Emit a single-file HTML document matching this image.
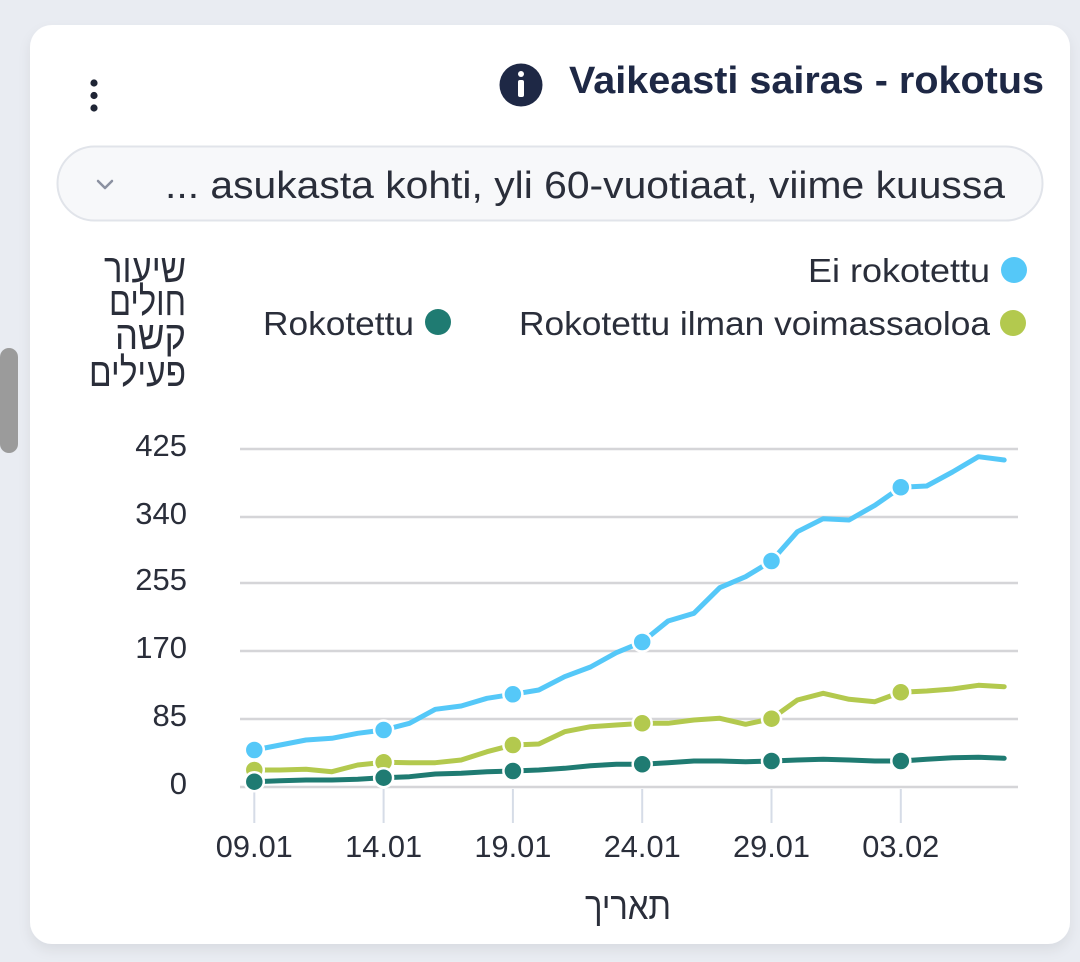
<!DOCTYPE html>
<html><head><meta charset="utf-8">
<style>
html,body{margin:0;padding:0;background:#e9ecf2;}
svg{display:block;}
text{font-family:"Liberation Sans","DejaVu Sans",sans-serif;}
</style></head>
<body>
<svg width="1080" height="962" viewBox="0 0 1080 962" xmlns="http://www.w3.org/2000/svg">
<defs>
<filter id="sh" x="-5%" y="-5%" width="110%" height="115%">
<feDropShadow dx="0" dy="6" stdDeviation="6" flood-color="#000" flood-opacity="0.07"/>
</filter>
</defs>
<rect x="0" y="0" width="1080" height="962" fill="#e9ecf2"/>
<rect x="0" y="348" width="18" height="105" rx="9" fill="#9b9b9b"/>
<rect x="30" y="25" width="1040" height="919" rx="22" fill="#ffffff" filter="url(#sh)"/>

<!-- kebab -->
<circle cx="94" cy="83" r="3.6" fill="#1f2535"/>
<circle cx="94" cy="95.5" r="3.6" fill="#1f2535"/>
<circle cx="94" cy="108" r="3.6" fill="#1f2535"/>

<!-- info icon + title -->
<circle cx="521" cy="85" r="21.5" fill="#1e2845"/>
<circle cx="521" cy="74" r="3" fill="#fff"/>
<rect x="518" y="80" width="6" height="17" rx="2" fill="#fff"/>
<text x="569" y="93" font-size="38" font-weight="bold" fill="#1e2845" textLength="475" lengthAdjust="spacingAndGlyphs">Vaikeasti sairas - rokotus</text>

<!-- dropdown -->
<rect x="57.5" y="146.5" width="985" height="74" rx="37" fill="#f7f8fa" stroke="#e1e4ea" stroke-width="2"/>
<polyline points="98,181 105,188 112,181" fill="none" stroke="#8b91a1" stroke-width="2.5" stroke-linecap="round" stroke-linejoin="round"/>
<text x="165" y="198" font-size="38" fill="#2a2e3a" textLength="840" lengthAdjust="spacingAndGlyphs">... asukasta kohti, yli 60-vuotiaat, viime kuussa</text>

<!-- y axis label (Hebrew) -->
<g font-size="40" fill="#2a2e3a" text-anchor="end">
<text x="186" y="282" textLength="82" lengthAdjust="spacingAndGlyphs">שיעור</text>
<text x="186" y="315" textLength="77" lengthAdjust="spacingAndGlyphs">חולים</text>
<text x="186" y="349" textLength="71" lengthAdjust="spacingAndGlyphs">קשה</text>
<text x="186" y="386" textLength="97" lengthAdjust="spacingAndGlyphs">פעילים</text>
</g>

<!-- legend -->
<text x="808" y="282" font-size="33" fill="#2a2e3a" textLength="182" lengthAdjust="spacingAndGlyphs">Ei rokotettu</text>
<circle cx="1014" cy="270" r="13" fill="#55c8f8"/>
<text x="519" y="335" font-size="33" fill="#2a2e3a" textLength="471" lengthAdjust="spacingAndGlyphs">Rokotettu ilman voimassaoloa</text>
<circle cx="1013" cy="323" r="13" fill="#b3c94e"/>
<text x="263" y="335" font-size="33" fill="#2a2e3a" textLength="151" lengthAdjust="spacingAndGlyphs">Rokotettu</text>
<circle cx="438" cy="322" r="13" fill="#1f7b72"/>

<!-- grid -->
<g stroke="#d5d5d8" stroke-width="2.5">
<line x1="240" y1="449" x2="1018" y2="449"/>
<line x1="240" y1="517" x2="1018" y2="517"/>
<line x1="240" y1="583" x2="1018" y2="583"/>
<line x1="240" y1="651" x2="1018" y2="651"/>
<line x1="240" y1="719" x2="1018" y2="719"/>
<line x1="240" y1="787" x2="1018" y2="787"/>
</g>
<!-- y tick labels -->
<g font-size="31" fill="#2a2e3a" text-anchor="end">
<text x="187" y="456">425</text>
<text x="187" y="524">340</text>
<text x="187" y="590">255</text>
<text x="187" y="658">170</text>
<text x="187" y="726">85</text>
<text x="187" y="794">0</text>
</g>
<!-- x ticks -->
<g stroke="#d6dce7" stroke-width="2">
<line x1="254.3" y1="789" x2="254.3" y2="823"/>
<line x1="383.6" y1="789" x2="383.6" y2="823"/>
<line x1="512.9" y1="789" x2="512.9" y2="823"/>
<line x1="642.2" y1="789" x2="642.2" y2="823"/>
<line x1="771.5" y1="789" x2="771.5" y2="823"/>
<line x1="900.8" y1="789" x2="900.8" y2="823"/>
</g>
<g font-size="31" fill="#2a2e3a" text-anchor="middle">
<text x="254.3" y="857" textLength="77" lengthAdjust="spacingAndGlyphs">09.01</text>
<text x="383.6" y="857" textLength="77" lengthAdjust="spacingAndGlyphs">14.01</text>
<text x="512.9" y="857" textLength="77" lengthAdjust="spacingAndGlyphs">19.01</text>
<text x="642.2" y="857" textLength="77" lengthAdjust="spacingAndGlyphs">24.01</text>
<text x="771.5" y="857" textLength="77" lengthAdjust="spacingAndGlyphs">29.01</text>
<text x="900.8" y="857" textLength="77" lengthAdjust="spacingAndGlyphs">03.02</text>
</g>
<text x="628" y="919" font-size="38" fill="#2a2e3a" text-anchor="middle" textLength="86" lengthAdjust="spacingAndGlyphs">תאריך</text>

<!-- series -->
<g fill="none" stroke-width="5" stroke-linejoin="round" stroke-linecap="round">
<polyline stroke="#1f7b72" points="254.3,781.7 280.2,780.7 306,780 331.9,780 357.7,779.3 383.6,777.7 409.5,776.7 435.3,774 461.2,773.3 487,771.7 512.9,771 538.8,770 564.6,768.3 590.5,765.7 616.3,764.3 642.2,764.3 668.1,762.7 693.9,761 719.8,761 745.6,761.7 771.5,761 797.4,760 823.2,759.3 849.1,760 874.9,761 900.8,761 926.7,759.3 952.5,757.7 978.4,757.3 1004.2,758.3"/>
<polyline stroke="#b3c94e" points="254.3,770 280.2,770 306,769.3 331.9,771.7 357.7,765 383.6,762.3 409.5,762.7 435.3,762.7 461.2,760 487,751.7 512.9,745 538.8,744 564.6,731.7 590.5,726.7 616.3,725 642.2,723.3 668.1,723.3 693.9,720 719.8,718.3 745.6,724.3 771.5,718.7 797.4,700 823.2,693.3 849.1,699.3 874.9,701.7 900.8,692.3 926.7,691 952.5,689 978.4,685.3 1004.2,686.7"/>
<polyline stroke="#55c8f8" points="254.3,750 280.2,745 306,740 331.9,738.3 357.7,733.3 383.6,730 409.5,723.3 435.3,709.3 461.2,706 487,698.3 512.9,694.3 538.8,690 564.6,676.7 590.5,667 616.3,652.7 642.2,642 668.1,621 693.9,613.3 719.8,587.7 745.6,576.7 771.5,561 797.4,531.7 823.2,518.7 849.1,520 874.9,505.3 900.8,487.3 926.7,486 952.5,472 978.4,456.7 1004.2,460"/>
</g>
<!-- markers -->
<g stroke="#ffffff" stroke-width="2.5">
<g fill="#b3c94e">
<circle cx="254.3" cy="770" r="9.5"/>
<circle cx="383.6" cy="762.3" r="9.5"/>
<circle cx="512.9" cy="745" r="9.5"/>
<circle cx="642.2" cy="723.3" r="9.5"/>
<circle cx="771.5" cy="718.7" r="9.5"/>
<circle cx="900.8" cy="692.3" r="9.5"/>
</g>
<g fill="#1f7b72">
<circle cx="254.3" cy="781.7" r="9.5"/>
<circle cx="383.6" cy="777.7" r="9.5"/>
<circle cx="512.9" cy="771" r="9.5"/>
<circle cx="642.2" cy="764.3" r="9.5"/>
<circle cx="771.5" cy="761" r="9.5"/>
<circle cx="900.8" cy="761" r="9.5"/>
</g>
<g fill="#55c8f8">
<circle cx="254.3" cy="750" r="9.5"/>
<circle cx="383.6" cy="730" r="9.5"/>
<circle cx="512.9" cy="694.3" r="9.5"/>
<circle cx="642.2" cy="642" r="9.5"/>
<circle cx="771.5" cy="561" r="9.5"/>
<circle cx="900.8" cy="487.3" r="9.5"/>
</g>
</g>
</svg>
</body></html>
